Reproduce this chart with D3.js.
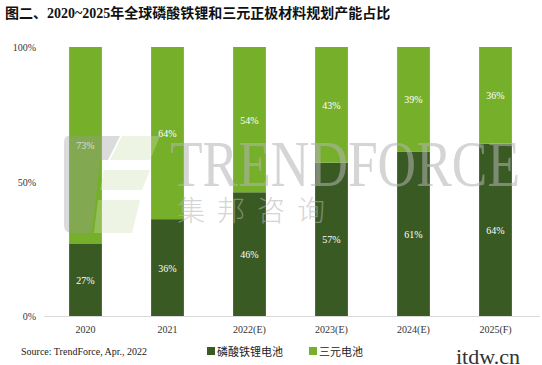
<!DOCTYPE html>
<html>
<head>
<meta charset="utf-8">
<script src="https://cdn.jsdelivr.net/npm/d3@7"></script>
<style>
  body { margin: 0; background: #fff; }
  svg text { font-family: "Liberation Serif", "Noto Sans CJK SC", serif; }
</style>
</head>
<body>
<script>
var years = ["2020", "2021", "2022(E)", "2023(E)", "2024(E)", "2025(F)"];
var lfp = [27, 36, 46, 57, 61, 64];
var ncm = [73, 64, 54, 43, 39, 36];
var seriesNames = ["磷酸铁锂电池", "三元电池"];
var seriesColors = ["#3a5a24", "#76b02a"];
var yTicks = [0, 50, 100];

var width = 542, height = 365;
var svg = d3.select("body").append("svg")
    .attr("width", width)
    .attr("height", height);

var x = d3.scaleBand().domain(years).range([44.5, 536.5]).paddingInner(0.6).paddingOuter(0.3);
var y = d3.scaleLinear().domain([0, 100]).range([316, 47]);

// title
svg.append("text")
    .attr("x", 5).attr("y", 18)
    .attr("font-size", 14).attr("font-weight", "bold")
    .attr("fill", "#111")
    .text("图二、2020~2025年全球磷酸铁锂和三元正极材料规划产能占比");

// y tick labels
svg.selectAll(".ytick").data(yTicks).enter().append("text")
    .attr("x", 36).attr("y", function(d) { return y(d) + 4; })
    .attr("text-anchor", "end")
    .attr("font-size", 10).attr("fill", "#333")
    .text(function(d) { return d + "%"; });

// stacked data
var rows = years.map(function(yr, i) { return {year: yr, a: lfp[i], b: ncm[i]}; });
var stack = d3.stack().keys(["a", "b"]);
var layers = stack(rows);

var g = svg.selectAll(".layer").data(layers).enter().append("g")
    .attr("fill", function(d, i) { return seriesColors[i]; });

g.selectAll("rect").data(function(d) { return d; }).enter().append("rect")
    .attr("x", function(d) { return x(d.data.year); })
    .attr("width", x.bandwidth())
    .attr("y", function(d) { return y(d[1]); })
    .attr("height", function(d) { return y(d[0]) - y(d[1]); });

// baseline
svg.append("line")
    .attr("x1", 44).attr("x2", 540)
    .attr("y1", y(0) + 0.5).attr("y2", y(0) + 0.5)
    .attr("stroke", "#d9d9d9");

// x labels
svg.selectAll(".xtick").data(years).enter().append("text")
    .attr("x", function(d) { return x(d) + x.bandwidth() / 2; })
    .attr("y", 333)
    .attr("text-anchor", "middle")
    .attr("font-size", 10).attr("fill", "#333")
    .text(function(d) { return d; });

// watermark logo + text
var wm = svg.append("g").attr("opacity", 0.35);
wm.append("path")
    .attr("d", "M68,136 H120 L108,160 H100 L92,233 H72 Q64,233 64,225 V144 Q64,136 68,136 Z")
    .attr("fill", "#9a9a9a");
wm.append("path").attr("d", "M122,136 H160 L150,160 H110 Z").attr("fill", "#cfe0b0");
wm.append("path").attr("d", "M104,170 H150 L142,190 H100 Z").attr("fill", "#cfe0b0");
wm.append("path").attr("d", "M98,200 H140 L132,233 H94 Z").attr("fill", "#cfe0b0");
svg.append("text")
    .attr("x", 170).attr("y", 186)
    .attr("font-size", 66).attr("fill", "#b4b4b4").attr("opacity", 0.55)
    .attr("textLength", 350).attr("lengthAdjust", "spacingAndGlyphs")
    .text("TRENDFORCE");
svg.append("text")
    .attr("x", 177).attr("y", 221)
    .attr("font-family", "'Noto Sans CJK SC', sans-serif")
    .attr("font-weight", 300)
    .attr("font-size", 28).attr("fill", "#b4b4b4").attr("opacity", 0.55)
    .attr("letter-spacing", 12)
    .text("集邦咨询");

// value labels on top of watermark
g.selectAll("text").data(function(d) { return d; }).enter().append("text")
    .attr("x", function(d) { return x(d.data.year) + x.bandwidth() / 2; })
    .attr("y", function(d) { return (y(d[0]) + y(d[1])) / 2 + 4; })
    .attr("text-anchor", "middle")
    .attr("font-family", "Lato, 'DejaVu Sans', sans-serif")
    .attr("font-size", 10).attr("fill", "#fff")
    .text(function(d) { return (d[1] - d[0]) + "%"; });

// source
svg.append("text")
    .attr("x", 21).attr("y", 355)
    .attr("font-size", 10).attr("fill", "#222")
    .text("Source: TrendForce, Apr., 2022");

// legend
var legX = [207, 309];
var leg = svg.selectAll(".leg").data(seriesNames).enter().append("g")
    .attr("transform", function(d, i) { return "translate(" + legX[i] + ",347)"; });
leg.append("rect").attr("width", 8).attr("height", 8)
    .attr("fill", function(d, i) { return seriesColors[i]; });
leg.append("text").attr("x", 10).attr("y", 8.5)
    .attr("font-family", "'Noto Sans CJK SC', sans-serif")
    .attr("font-size", 11).attr("fill", "#222")
    .text(function(d) { return d; });

// site mark
svg.append("text")
    .attr("x", 456).attr("y", 364)
    .attr("font-family", "'DejaVu Sans Mono', monospace")
    .attr("font-size", 22).attr("fill", "#333")
    .text("itdw.cn");
</script>
</body>
</html>
